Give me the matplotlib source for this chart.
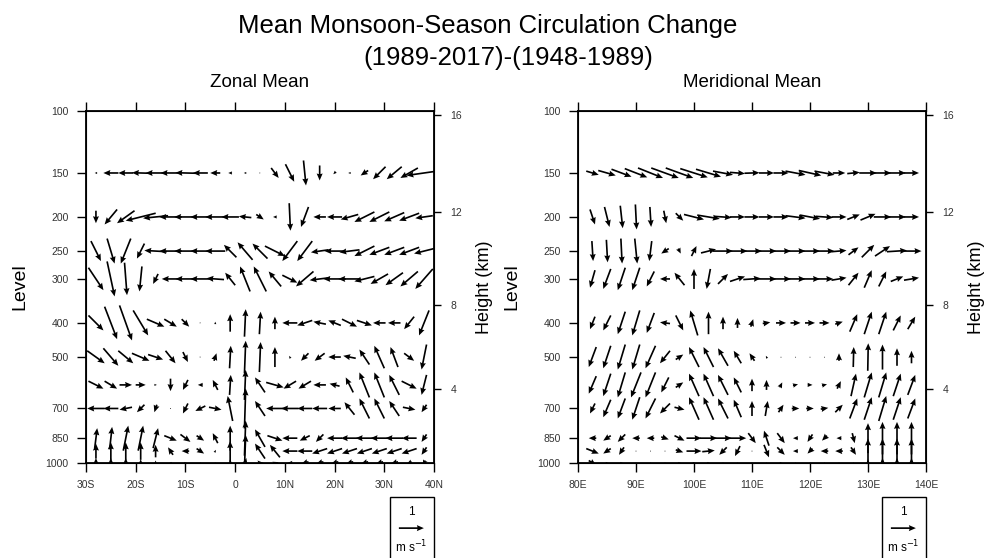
import numpy as np
import matplotlib
matplotlib.use("Agg")
import matplotlib.pyplot as plt
from matplotlib.patches import Rectangle

plt.rcParams["font.family"] = ["Liberation Sans", "DejaVu Sans"]

# pressure levels (hPa) of the arrow rows
levels = [150, 200, 250, 300, 400, 500, 600, 700, 850, 925, 1000]

# zonal mean panel: latitude (negative = S)
lats = [-28, -25, -22, -19, -16, -13, -10, -7, -4, -1, 2, 5, 8,
        11, 14, 17, 20, 23, 26, 29, 32, 35, 38]
# u (m/s) and scaled vertical wind, one row per level
zonal_u = [
    [-0.1, -0.6, -0.6, -0.7, -0.8, -0.8, -0.8, -0.6, -0.4, -0.15, -0.1, 0.05, 0.3, 0.35, 0.1, 0.0, -0.1, -0.1, -0.3, -0.5, -0.6, -0.7, -1.4],
    [0.0, -0.5, -0.7, -1.2, -1.0, -0.9, -0.9, -0.8, -0.8, -0.7, -0.5, 0.3, -0.15, 0.05, -0.3, -0.5, -0.6, -0.7, -0.8, -0.8, -0.8, -0.8, -0.7],
    [0.4, 0.3, -0.4, -0.3, -0.9, -0.9, -0.9, -0.8, -0.8, -0.5, -0.6, -0.6, 0.8, -0.6, -0.6, -0.7, -0.8, -0.8, -0.8, -0.8, -0.8, -0.8, -0.8],
    [0.6, 0.3, 0.1, -0.1, -0.2, -0.7, -0.8, -0.8, -0.7, -0.4, -0.4, -0.5, -0.5, 0.6, -0.7, -0.8, -0.9, -0.9, -0.8, -0.7, -0.7, -0.7, -0.7],
    [0.6, 0.5, 0.5, 0.6, 0.7, 0.5, 0.3, 0.05, 0.0, 0.0, 0.05, 0.05, 0.0, -0.6, -0.6, -0.5, -0.5, 0.6, 0.6, -0.5, -0.5, -0.4, -0.4],
    [0.7, 0.6, 0.6, 0.7, 0.6, 0.4, 0.2, 0.05, 0.1, 0.05, 0.05, 0.05, 0.0, -0.05, -0.3, -0.4, -0.5, -0.5, -0.4, -0.4, -0.3, 0.4, -0.2],
    [0.6, 0.5, 0.5, 0.4, 0.1, 0.0, -0.2, -0.2, -0.2, 0.05, 0.05, -0.4, 0.7, -0.5, -0.5, -0.5, -0.4, -0.3, -0.4, -0.4, -0.4, 0.6, -0.2],
    [-0.7, -0.6, -0.5, -0.3, -0.1, 0.0, -0.2, -0.4, 0.5, -0.2, 0.05, -0.4, -0.7, -0.7, -0.6, -0.6, -0.5, -0.4, -0.4, -0.4, -0.4, 0.5, -0.2],
    [0.1, 0.1, 0.2, 0.2, 0.2, 0.5, 0.4, 0.3, -0.2, 0.0, 0.05, -0.4, 0.6, -0.6, -0.4, -0.3, -0.6, -0.7, -0.7, -0.7, -0.7, -0.6, -0.2],
    [0.0, 0.0, 0.0, 0.0, 0.0, -0.2, -0.3, 0.3, 0.05, 0.0, 0.05, -0.4, -0.4, -0.6, -0.6, -0.6, -0.6, -0.6, -0.6, -0.6, -0.6, -0.6, -0.2],
    [0.0, 0.0, 0.0, 0.0, 0.0, -0.1, 0.1, 0.0, 0.0, 0.0, 0.1, -0.2, -0.2, -0.2, -0.3, -0.3, -0.3, -0.3, -0.3, -0.3, -0.3, -0.2, -0.1],
]
zonal_w = [
    [0.0, 0.0, 0.0, 0.02, 0.0, 0.0, 0.02, 0.0, 0.0, 0.0, 0.0, 0.0, -0.4, -0.7, -1.0, -0.6, -0.1, 0.0, -0.2, -0.5, -0.5, -0.4, -0.2],
    [-0.5, -0.6, -0.5, -0.3, -0.1, 0.0, 0.0, 0.0, 0.0, 0.0, 0.05, -0.2, 0.0, -1.1, -0.8, 0.0, 0.0, -0.2, -0.4, -0.4, -0.35, -0.3, -0.1],
    [-0.8, -1.0, -1.0, -0.6, 0.05, 0.0, 0.0, 0.0, 0.0, 0.5, 0.7, 0.6, -0.4, -0.8, -0.8, -0.1, 0.0, -0.1, -0.4, -0.3, -0.3, -0.3, -0.2],
    [-0.9, -1.4, -1.3, -1.0, -0.4, 0.0, 0.0, 0.0, 0.05, 0.5, 1.0, 1.0, 0.6, -0.3, -0.6, -0.1, 0.0, 0.0, -0.2, -0.4, -0.5, -0.6, -0.8],
    [-0.6, -1.3, -1.4, -1.0, -0.3, -0.3, -0.3, 0.0, 0.1, 0.7, 1.1, 0.9, 0.5, 0.0, -0.2, 0.1, 0.2, -0.3, -0.2, 0.0, 0.0, -0.5, -1.0],
    [-0.5, -0.7, -0.5, -0.3, -0.2, -0.5, -0.4, 0.0, 0.3, 0.9, 1.3, 1.2, 0.8, 0.1, -0.3, -0.3, 0.0, 0.1, 0.6, 0.9, 0.8, -0.3, -1.0],
    [-0.3, -0.3, 0.0, 0.0, 0.0, -0.5, -0.4, 0.0, 0.4, 0.8, 1.2, 0.6, -0.2, -0.3, -0.3, 0.0, 0.1, 0.6, 1.0, 1.0, 0.8, -0.3, -0.8],
    [0.0, 0.0, -0.1, -0.3, -0.3, 0.0, -0.4, -0.2, -0.1, 1.0, 1.6, 0.6, 0.0, 0.0, 0.0, 0.0, 0.0, 0.5, 0.8, 0.8, 0.6, -0.1, -0.3],
    [0.8, 0.9, 1.0, 1.0, 0.8, -0.2, -0.3, -0.2, 0.4, 1.0, 1.4, 0.7, -0.2, 0.0, -0.2, -0.3, 0.0, 0.0, 0.0, 0.0, 0.0, 0.0, -0.3],
    [0.6, 0.7, 0.7, 0.7, 0.5, 0.3, 0.0, -0.2, 0.1, 0.8, 1.3, 0.6, 0.5, 0.0, 0.0, -0.2, -0.2, -0.2, -0.2, -0.2, -0.2, -0.2, -0.3],
    [0.4, 0.4, 0.4, 0.3, 0.2, 0.0, 0.0, 0.0, 0.0, 0.3, 0.4, 0.2, 0.1, 0.0, -0.1, -0.1, -0.1, -0.1, -0.1, -0.1, -0.1, -0.1, -0.2],
]

# meridional mean panel: longitude (E)
lons = [82.5, 85, 87.5, 90, 92.5, 95, 97.5, 100, 102.5, 105, 107.5, 110,
        112.5, 115, 117.5, 120, 122.5, 125, 127.5, 130, 132.5, 135, 137.5]
merid_u = [
    [0.5, 0.7, 0.8, 0.9, 1.0, 1.1, 1.1, 1.1, 1.0, 0.8, 0.6, 0.6, 0.6, 0.6, 0.8, 0.9, 0.8, 0.5, 0.5, 0.7, 0.7, 0.7, 0.6],
    [0.2, 0.2, 0.1, 0.05, 0.05, 0.1, 0.3, 0.8, 0.9, 0.7, 0.6, 0.6, 0.6, 0.6, 0.8, 0.8, 0.7, 0.6, 0.5, 0.6, 0.7, 0.7, 0.6],
    [0.05, 0.05, 0.05, 0.1, -0.1, -0.3, 0.1, 0.2, 0.6, 0.8, 0.8, 0.8, 0.8, 0.8, 0.8, 0.8, 0.8, 0.6, 0.4, 0.5, 0.6, 0.8, 0.8],
    [-0.2, -0.3, -0.3, -0.3, -0.3, -0.4, -0.4, 0.0, -0.15, 0.4, 0.6, 0.7, 0.8, 0.8, 0.8, 0.8, 0.7, 0.6, 0.4, 0.3, 0.3, 0.5, 0.6],
    [-0.2, -0.3, -0.3, -0.3, -0.3, -0.4, 0.3, -0.3, 0.0, 0.0, 0.0, 0.1, 0.3, 0.4, 0.4, 0.4, 0.4, 0.3, 0.3, 0.3, 0.3, 0.3, 0.3],
    [-0.3, -0.3, -0.3, -0.3, -0.4, -0.4, 0.3, -0.4, -0.4, -0.4, -0.3, -0.2, -0.05, 0.0, 0.0, 0.0, 0.0, 0.0, 0.02, 0.02, 0.0, 0.0, 0.0],
    [-0.3, -0.3, -0.3, -0.4, -0.4, -0.3, 0.3, -0.4, -0.4, -0.4, -0.3, 0.0, 0.0, 0.1, 0.2, 0.2, 0.2, 0.15, 0.2, 0.3, 0.3, 0.3, 0.3],
    [-0.2, -0.3, -0.3, -0.3, -0.4, -0.4, 0.4, -0.4, -0.4, -0.4, -0.3, 0.0, 0.1, 0.2, 0.3, 0.3, 0.3, 0.3, 0.3, 0.3, 0.3, 0.3, 0.3],
    [-0.3, -0.3, -0.3, -0.3, -0.3, 0.3, 0.4, 0.6, 0.7, 0.7, 0.7, 0.3, -0.2, 0.3, -0.2, -0.2, -0.2, -0.2, 0.1, 0.0, 0.0, 0.0, 0.0],
    [0.5, -0.3, -0.2, 0.0, 0.0, 0.02, 0.3, 0.6, 0.5, -0.3, -0.2, 0.0, 0.2, 0.3, -0.2, -0.2, -0.3, -0.3, 0.2, 0.0, 0.0, 0.0, 0.0],
    [0.3, 0.1, 0.1, 0.0, 0.0, 0.0, 0.1, 0.1, 0.1, 0.0, 0.0, 0.0, 0.0, 0.1, 0.0, 0.0, 0.0, 0.0, 0.0, 0.0, 0.0, 0.0, 0.0],
]
merid_w = [
    [-0.15, -0.2, -0.3, -0.35, -0.4, -0.4, -0.4, -0.35, -0.3, -0.15, -0.05, 0.02, 0.0, 0.0, -0.15, -0.2, -0.15, 0.0, 0.05, 0.0, 0.0, 0.0, 0.0],
    [-0.6, -0.8, -0.9, -1.0, -0.8, -0.5, -0.3, -0.2, -0.15, -0.05, 0.0, 0.0, 0.0, 0.0, -0.1, -0.15, -0.05, 0.0, 0.2, 0.25, 0.0, 0.0, 0.0],
    [-0.8, -0.9, -1.0, -1.0, -0.8, -0.2, -0.2, 0.4, 0.15, 0.0, 0.0, 0.0, 0.0, 0.0, 0.0, 0.0, 0.0, 0.05, 0.3, 0.5, 0.4, 0.05, 0.0],
    [-0.7, -0.8, -0.9, -0.9, -0.6, 0.0, 0.5, 0.8, -0.8, 0.4, 0.2, 0.05, 0.0, 0.0, 0.0, 0.0, 0.0, 0.1, 0.5, 0.7, 0.6, 0.2, 0.1],
    [-0.5, -0.6, -0.9, -1.0, -0.8, 0.05, -0.6, 1.0, 0.9, 0.5, 0.4, 0.3, 0.05, 0.0, 0.0, 0.0, 0.0, 0.1, 0.7, 0.9, 0.9, 0.6, 0.5],
    [-0.8, -0.9, -1.0, -1.0, -0.9, -0.5, 0.2, 0.8, 0.8, 0.7, 0.5, 0.3, 0.1, 0.05, 0.05, 0.05, 0.05, 0.3, 0.8, 1.1, 1.0, 0.7, 0.5],
    [-0.7, -0.9, -1.0, -1.0, -1.0, -0.6, 0.2, 0.9, 0.9, 0.8, 0.6, 0.5, 0.4, 0.2, 0.05, 0.0, 0.05, 0.3, 0.9, 1.0, 1.0, 0.9, 0.8],
    [-0.4, -0.7, -0.8, -0.9, -0.8, -0.4, -0.1, 0.9, 0.9, 0.8, 0.7, 0.6, 0.6, 0.3, 0.0, 0.0, 0.05, 0.3, 0.8, 0.9, 1.0, 0.9, 0.8],
    [0.0, -0.2, -0.3, 0.0, 0.0, -0.1, -0.2, 0.0, 0.0, 0.0, 0.0, -0.4, 0.6, -0.4, 0.0, -0.3, -0.2, 0.0, -0.4, 1.2, 1.3, 1.3, 1.3],
    [-0.2, -0.2, -0.3, 0.0, 0.0, 0.0, -0.1, 0.0, 0.05, -0.3, -0.4, 0.0, -0.5, -0.3, 0.0, -0.2, 0.0, 0.0, -0.3, 1.0, 1.0, 1.0, 1.0],
    [-0.2, 0.0, 0.0, 0.0, 0.0, 0.0, 0.0, 0.0, 0.0, 0.0, 0.0, 0.0, 0.0, 0.0, 0.0, 0.0, 0.0, 0.0, 0.0, 0.3, 0.4, 0.4, 0.4],
]

p_ticks = [100, 150, 200, 250, 300, 400, 500, 700, 850, 1000]
height_ticks = [4, 8, 12, 16]
lat_ticks = [-30, -20, -10, 0, 10, 20, 30, 40]
lat_labels = ["30S", "20S", "10S", "0", "10N", "20N", "30N", "40N"]
lon_ticks = [80, 90, 100, 110, 120, 130, 140]
lon_labels = ["80E", "90E", "100E", "110E", "120E", "130E", "140E"]


def std_atm_p(z_km):
    # standard atmosphere pressure (hPa) at height z (km)
    if z_km <= 11:
        return 1013.25 * (1 - 0.0065 * z_km * 1000 / 288.15) ** 5.25588
    return 226.32 * np.exp(-(z_km - 11) * 1000 / 6341.6)


W, H = 984, 558
fig = plt.figure(figsize=(W / 100, H / 100), dpi=100)
fig.text(488 / W, 1 - 33 / H, "Mean Monsoon-Season Circulation Change",
         ha="center", va="baseline", fontsize=18.5)
fig.text(508 / W, 1 - 65 / H, "(1989-2017)-(1948-1989)",
         ha="center", va="baseline", fontsize=18.5)

panels = [
    (86, lats, zonal_u, zonal_w, (-30, 40), lat_ticks, lat_labels, "Zonal Mean"),
    (578, lons, merid_u, merid_w, (80, 140), lon_ticks, lon_labels, "Meridional Mean"),
]

for left, xs, u, w, xlim, xt, xtl, title in panels:
    ax = fig.add_axes([left / W, 95 / H, 348 / W, 352 / H])
    X, P = np.meshgrid(xs, levels)
    q = ax.quiver(X, P, np.array(u), np.array(w), pivot="middle",
                  scale=4, scale_units="inches", width=0.0048,
                  headwidth=3.6, headlength=4.2, headaxislength=3.8,
                  minlength=0.6, color="k", zorder=3)
    ax.set_yscale("log")
    ax.set_ylim(1000, 100)
    ax.set_xlim(*xlim)
    ax.set_yticks(p_ticks)
    ax.set_yticklabels([str(p) for p in p_ticks])
    ax.minorticks_off()
    ax.set_xticks(xt)
    ax.set_xticklabels(xtl)
    ax.tick_params(direction="out", length=6.5, width=1.0, labelsize=7.5,
                   top=True, pad=6, labelcolor="#333333")
    for s in ax.spines.values():
        s.set_linewidth(1.3)
    ax.set_ylabel("Level", fontsize=14, labelpad=12)
    ax.text(0.5, 1 + 24 / 352, title, transform=ax.transAxes,
            ha="center", va="baseline", fontsize=13.5)

    # height axis on the right
    axr = ax.twinx()
    axr.set_yscale("log")
    axr.set_ylim(1000, 100)
    axr.set_yticks([std_atm_p(z) for z in height_ticks])
    axr.set_yticklabels([str(z) for z in height_ticks])
    axr.minorticks_off()
    axr.tick_params(direction="out", length=5, width=1.0, labelsize=7.5,
                    pad=7, labelcolor="#333333")
    axr.set_ylabel("Height (km)", fontsize=13, labelpad=10)

    # reference vector box
    ax.add_patch(Rectangle((304 / 348, -0.33), 44 / 348, 0.33 - 34 / 352,
                           transform=ax.transAxes, fill=False, lw=1.0,
                           clip_on=False))
    ax.quiverkey(q, 0.935, -0.185, 1, "1", labelpos="N", coordinates="axes",
                 labelsep=0.1, fontproperties={"size": 8.5})
    ax.text(0.935, -0.24, "m s$^{-1}$", transform=ax.transAxes,
            ha="center", va="center", fontsize=8.5)

fig.savefig("out.png", dpi=100)
